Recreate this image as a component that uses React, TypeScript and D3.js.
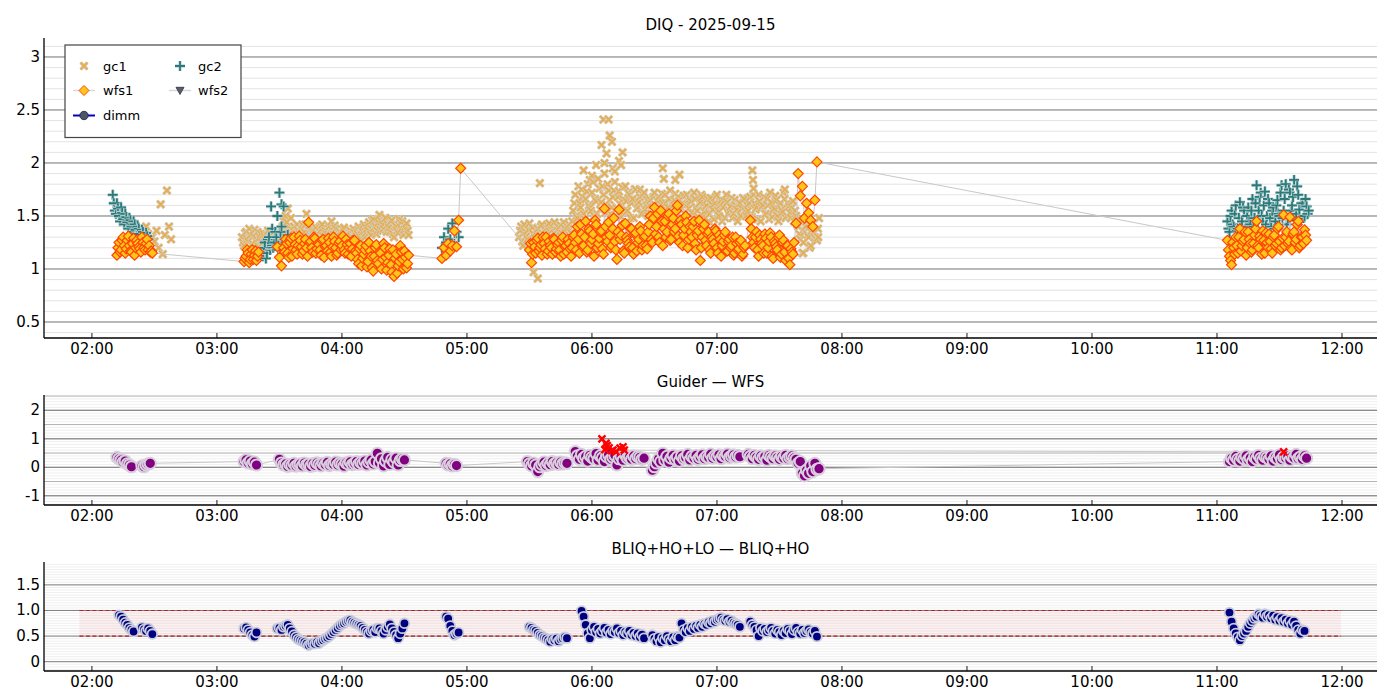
import React from "react";
import * as d3 from "d3";

type Seg = [number, number[]];
type Pt = [number, number];

// ---- axis ticks (time in minutes after 00:00) ----
const HOUR_TICKS = [120, 180, 240, 300, 360, 420, 480, 540, 600, 660, 720];
const HOUR_LABELS = ["02:00", "03:00", "04:00", "05:00", "06:00", "07:00", "08:00", "09:00", "10:00", "11:00", "12:00"];
const TOP_TICKS = [0.5, 1, 1.5, 2, 2.5, 3];
const TOP_LABELS = ["0.5", "1", "1.5", "2", "2.5", "3"];
const MID_TICKS = [-1, 0, 1, 2];
const MID_LABELS = ["-1", "0", "1", "2"];
const BOT_TICKS = [0, 0.5, 1, 1.5];
const BOT_LABELS = ["0", "0.5", "1.0", "1.5"];
const TITLES = ["DIQ - 2025-09-15", "Guider \u2014 WFS", "BLIQ+HO+LO \u2014 BLIQ+HO"];
const LEGEND_NAMES = ["gc1", "gc2", "wfs1", "wfs2", "dimm"];

// ---- series: [start minute, values at one-minute cadence] ----
const GC1_SEGS: Seg[] = [
  [146, [1.40, 1.33, 1.22, 1.30, 1.26, 1.36, 1.20, 1.61, 1.14, 1.32, 1.74, 1.40, 1.28]],
  [192, [1.30, 1.22, 1.35, 1.26, 1.32, 1.24, 1.37, 1.28, 1.21, 1.33,
    1.25, 1.30, 1.20, 1.28, 1.22, 1.31, 1.26, 1.24, 1.29, 1.23,
    1.45, 1.50, 1.57, 1.38, 1.32, 1.40, 1.28, 1.36, 1.30, 1.42,
    1.35, 1.52, 1.30, 1.38, 1.27, 1.40, 1.33, 1.29, 1.37, 1.31,
    1.36, 1.28, 1.40, 1.45, 1.32, 1.38, 1.27, 1.35, 1.30, 1.39,
    1.33, 1.27, 1.36, 1.29, 1.34, 1.31, 1.40, 1.28, 1.35, 1.30,
    1.38, 1.44, 1.32, 1.47, 1.40, 1.36, 1.51, 1.45, 1.38, 1.48,
    1.42, 1.35, 1.46, 1.30, 1.40, 1.34, 1.44, 1.45, 1.37, 1.43, 1.32]],
  [325, [1.30, 1.40, 1.22, 1.35, 1.28, 1.43, 1.25, 1.33, 1.20, 1.38, 1.28, 1.42, 1.32,
    1.26, 1.40, 1.35, 1.30, 1.44, 1.36, 1.29, 1.41, 1.33, 1.38, 1.30, 1.42, 1.34,
    1.55, 1.70, 1.48, 1.62, 1.75, 1.52, 1.66, 1.80, 1.58, 1.72, 1.50, 1.64, 1.85, 1.56, 1.78, 1.90,
    1.60, 1.74, 1.52, 1.68, 1.82, 1.57, 1.73, 1.49, 1.66, 1.78, 1.55, 1.70, 1.62, 1.48, 1.75, 1.58,
    1.68, 1.52, 1.72, 1.60,
    1.50, 1.65, 1.45, 1.72, 1.58, 1.68, 1.48, 1.62, 1.70, 1.55, 1.66, 1.46, 1.60, 1.71, 1.52, 1.64,
    1.57, 1.69, 1.47, 1.61, 1.66, 1.53, 1.72, 1.58, 1.49, 1.63, 1.68, 1.54, 1.60, 1.45, 1.67, 1.56,
    1.62, 1.70, 1.50, 1.65, 1.58, 1.48, 1.63, 1.55, 1.67, 1.52, 1.60, 1.45, 1.62, 1.57, 1.66, 1.50,
    1.55, 1.68, 1.48, 1.62, 1.58, 1.70, 1.45, 1.60, 1.52, 1.66, 1.47, 1.63, 1.55, 1.69, 1.50, 1.60,
    1.56, 1.72, 1.48, 1.62, 1.53, 1.58, 1.45, 1.50,
    1.40, 1.28, 1.15, 1.35, 1.45, 1.30, 1.22, 1.38, 1.30, 1.27, 1.48]],
];
// second sample of each minute (half a minute later)
const GC1_SEGS_HALF: Seg[] = [
  [192.5, [1.25, 1.34, 1.28, 1.38, 1.23, 1.31, 1.27, 1.35, 1.30, 1.24,
    1.33, 1.27, 1.36, 1.23, 1.30, 1.25, 1.34, 1.28, 1.32, 1.40,
    1.35, 1.44, 1.30, 1.48, 1.36, 1.29, 1.42, 1.33, 1.38, 1.27,
    1.42, 1.30, 1.36, 1.25, 1.34, 1.39, 1.28, 1.35, 1.42, 1.26,
    1.33, 1.38, 1.30, 1.36, 1.41, 1.29, 1.34, 1.27, 1.37, 1.32,
    1.29, 1.36, 1.31, 1.38, 1.26, 1.33, 1.30, 1.37, 1.42, 1.34,
    1.41, 1.35, 1.46, 1.39, 1.33, 1.44, 1.37, 1.42, 1.48, 1.35,
    1.39, 1.45, 1.33, 1.41, 1.36, 1.47, 1.38, 1.32, 1.40, 1.36]],
  [325.5, [1.36, 1.26, 1.42, 1.31, 1.37, 1.24, 1.39, 1.29, 1.35, 1.27, 1.40, 1.33, 1.37, 1.31, 1.43, 1.28,
    1.38, 1.32, 1.40, 1.35, 1.30, 1.44, 1.34, 1.39, 1.31, 1.45,
    1.62, 1.50, 1.78, 1.58, 1.68, 1.47, 1.73, 1.60, 1.55, 1.82, 1.66, 1.52, 1.76, 1.63, 1.70, 1.53, 1.80,
    1.65, 1.58, 1.74, 1.50, 1.68, 1.61, 1.77, 1.55, 1.64, 1.72, 1.48, 1.66, 1.75, 1.57, 1.63, 1.52, 1.70,
    1.56, 1.65,
    1.60, 1.52, 1.68, 1.47, 1.64, 1.56, 1.71, 1.50, 1.62, 1.58, 1.74, 1.49, 1.65, 1.55, 1.68, 1.46, 1.62,
    1.52, 1.70, 1.57, 1.64, 1.48, 1.66, 1.55, 1.62, 1.70, 1.50, 1.58, 1.66, 1.52, 1.61, 1.47, 1.68, 1.55,
    1.60, 1.45, 1.64, 1.70, 1.52, 1.59, 1.48, 1.65, 1.56, 1.62, 1.50, 1.67, 1.55, 1.60,
    1.62, 1.50, 1.70, 1.56, 1.47, 1.64, 1.58, 1.68, 1.52, 1.60, 1.72, 1.49, 1.57, 1.65, 1.45, 1.62, 1.54,
    1.66, 1.50, 1.59, 1.48, 1.64, 1.55, 1.42,
    1.33, 1.45, 1.25, 1.40, 1.32, 1.20, 1.42, 1.35, 1.28, 1.38]],
];
const GC1_EXTRA: Pt[] = [
  [332, 0.97], [334, 0.91], [335, 1.81], [356, 1.93], [359, 1.84], [360, 1.88], [362, 1.98],
  [364.6, 2.17], [365.5, 2.41], [366, 2.00], [367, 2.09], [368, 2.41], [368.5, 2.26], [369.6, 2.20],
  [370, 1.95], [371, 1.92], [373, 2.02], [374, 1.98], [374.7, 2.10], [383, 1.75], [394, 1.95],
  [394.5, 1.85], [400, 1.84], [402, 1.89], [437, 1.93], [437.3, 1.84], [437.6, 1.76], [452.6, 1.75],
  [461.4, 1.15], [468.6, 1.30],
];

const GC2_SEGS: Seg[] = [
  [130, [1.70, 1.55, 1.62, 1.50, 1.58, 1.47, 1.52, 1.44, 1.48, 1.40, 1.45, 1.37, 1.40, 1.33, 1.37, 1.30, 1.34, 1.28]],
  [202, [1.12, 1.25, 1.15, 1.30, 1.59, 1.20, 1.35, 1.50, 1.72, 1.40, 1.59, 1.25, 1.32, 1.12]],
  [288, [1.20, 1.30, 1.25, 1.38, 1.28, 1.43, 1.22, 1.35, 1.30]],
  [665, [1.45, 1.35, 1.55, 1.40, 1.60, 1.38, 1.63, 1.45, 1.55, 1.40, 1.58, 1.42, 1.66, 1.48, 1.79, 1.55,
    1.72, 1.45, 1.73, 1.50, 1.62, 1.40, 1.58, 1.45, 1.65, 1.50, 1.79, 1.55, 1.80, 1.48, 1.72, 1.60,
    1.84, 1.52, 1.70, 1.45, 1.62, 1.50, 1.59, 1.55]],
];
const GC2_SEGS_HALF: Seg[] = [
  [130.5, [1.62, 1.52, 1.57, 1.45, 1.53, 1.42, 1.49, 1.38, 1.46, 1.35, 1.42, 1.33, 1.38, 1.29, 1.35, 1.26, 1.31]],
  [202.5, [1.20, 1.10, 1.28, 1.18, 1.38, 1.25, 1.30, 1.22, 1.35, 1.18, 1.28, 1.20, 1.15]],
  [665.5, [1.38, 1.50, 1.42, 1.52, 1.36, 1.48, 1.40, 1.58, 1.38, 1.50, 1.45, 1.55, 1.40, 1.62, 1.45, 1.68,
    1.50, 1.60, 1.42, 1.66, 1.48, 1.55, 1.38, 1.60, 1.52, 1.72, 1.48, 1.66, 1.42, 1.75, 1.55, 1.68, 1.46,
    1.78, 1.56, 1.62, 1.48, 1.66, 1.52]],
];
const GC2_EXTRA: Pt[] = [[211, 1.61], [206.5, 1.22], [209.5, 1.18]];

const WFS1_SEGS: Seg[] = [
  [132, [1.13, 1.25, 1.18, 1.30, 1.15, 1.27, 1.22, 1.16, 1.29, 1.20, 1.24, 1.19, 1.30, 1.20, 1.24, 1.18, 1.16, 1.15]],
  [193, [1.07, 1.12, 1.15, 1.09, 1.18, 1.13, 1.08, 1.16]],
  [209, [1.21, 1.11, 1.03,
    1.20, 1.28, 1.15, 1.25, 1.12, 1.30, 1.18, 1.22, 1.27, 1.14, 1.24, 1.20, 1.44, 1.26, 1.16, 1.29, 1.19,
    1.23, 1.13, 1.28, 1.21, 1.17, 1.25, 1.12, 1.30, 1.20, 1.15, 1.26, 1.22, 1.18, 1.28, 1.14, 1.24, 1.19, 1.27,
    1.15, 1.05, 1.22, 1.10, 1.18, 1.02, 1.25, 1.12, 0.98, 1.20, 1.08, 1.16, 1.00, 1.24, 1.11, 1.06, 1.19,
    0.97, 0.93, 1.14, 1.03, 1.22, 1.09, 1.17, 1.01, 1.13]],
  [288, [1.10, 1.20, 1.13, 1.24, 1.17, 1.22, 1.36, 1.21, 1.46, 1.95]],
  [330, [1.18, 1.06, 1.25, 1.15, 1.29, 1.20, 1.13, 1.24, 1.30, 1.17, 1.22, 1.14, 1.28, 1.19, 1.25, 1.12, 1.30,
    1.21, 1.16, 1.24, 1.12, 1.30,
    1.25, 1.40, 1.15, 1.33, 1.22, 1.45, 1.18, 1.36, 1.28, 1.12, 1.42, 1.24, 1.35, 1.19, 1.57, 1.30, 1.44,
    1.20, 1.38, 1.26, 1.09, 1.56, 1.32, 1.17, 1.43, 1.27, 1.21, 1.38, 1.14, 1.34, 1.25, 1.40, 1.18, 1.30, 1.22,
    1.35, 1.50, 1.25, 1.58, 1.40, 1.30, 1.55, 1.22, 1.45, 1.35, 1.52, 1.28, 1.48, 1.38, 1.60, 1.25, 1.42,
    1.32, 1.50, 1.20, 1.40, 1.30, 1.45, 1.18, 1.36, 1.08, 1.30, 1.42, 1.22, 1.35, 1.15, 1.28, 1.38, 1.20,
    1.32, 1.12, 1.26, 1.35, 1.17, 1.28, 1.22, 1.13, 1.30, 1.18, 1.25, 1.12, 1.20]],
  [436, [1.46, 1.30, 1.20, 1.35, 1.12, 1.28, 1.22, 1.33, 1.15, 1.26, 1.30, 1.10, 1.24, 1.18, 1.32, 1.14,
    1.27, 1.08, 1.22, 1.04, 1.16, 1.25,
    1.43, 1.90, 1.69, 1.78, 1.48, 1.62, 1.53, 1.46, 1.40, 1.65, 2.01]],
  [665, [1.27, 1.12, 1.04, 1.20, 1.30, 1.15, 1.38, 1.22, 1.28, 1.13, 1.35, 1.24, 1.18, 1.32, 1.45, 1.20,
    1.28, 1.36, 1.15, 1.25, 1.33, 1.19, 1.30, 1.22, 1.38, 1.26, 1.20, 1.51, 1.30, 1.24, 1.49, 1.18, 1.35,
    1.28, 1.45, 1.22, 1.30, 1.37, 1.27]],
];
const WFS1_SEGS_HALF: Seg[] = [
  [132.5, [1.20, 1.16, 1.27, 1.22, 1.19, 1.31, 1.17, 1.24, 1.13, 1.27, 1.21, 1.16, 1.25, 1.18, 1.28, 1.22, 1.17]],
  [193.5, [1.10, 1.18, 1.06, 1.14, 1.09, 1.17, 1.12]],
  [212.5, [1.16, 1.24, 1.11, 1.29, 1.19, 1.23, 1.14, 1.31, 1.21, 1.17, 1.28, 1.12, 1.25, 1.20, 1.30, 1.15,
    1.24, 1.18, 1.27, 1.11, 1.22, 1.29, 1.16, 1.21, 1.26, 1.13, 1.24, 1.18, 1.31, 1.15, 1.23, 1.20, 1.12,
    1.27, 1.17,
    1.09, 1.19, 1.03, 1.14, 1.22, 1.07, 1.17, 1.01, 1.12, 1.23, 1.05, 1.15, 1.09, 1.20, 0.99, 1.13, 1.04,
    1.18, 1.10, 0.96, 1.07, 1.16, 1.00, 1.11, 1.05]],
  [330.5, [1.24, 1.14, 1.21, 1.27, 1.17, 1.23, 1.30, 1.19, 1.14, 1.26, 1.20, 1.29, 1.16, 1.23, 1.18, 1.27,
    1.14, 1.22, 1.28, 1.19,
    1.20, 1.32, 1.18, 1.28, 1.42, 1.21, 1.30, 1.16, 1.38, 1.24, 1.33, 1.46, 1.20, 1.29, 1.36, 1.14, 1.40,
    1.26, 1.32, 1.22, 1.48, 1.18, 1.35, 1.28, 1.41, 1.15, 1.30, 1.24, 1.38, 1.20, 1.33, 1.17, 1.28, 1.36,
    1.22, 1.31, 1.19,
    1.42, 1.28, 1.48, 1.33, 1.52, 1.25, 1.45, 1.38, 1.30, 1.50, 1.27, 1.42, 1.35, 1.55, 1.31, 1.46, 1.22,
    1.38, 1.44, 1.28, 1.35, 1.40, 1.24, 1.32, 1.46, 1.20, 1.38, 1.27, 1.33, 1.18, 1.30, 1.24, 1.36, 1.15,
    1.28, 1.22, 1.32, 1.17, 1.26, 1.20, 1.30, 1.15, 1.24, 1.19, 1.27, 1.14, 1.22]],
  [436.5, [1.38, 1.25, 1.30, 1.18, 1.32, 1.24, 1.15, 1.29, 1.20, 1.34, 1.12, 1.26, 1.21, 1.30, 1.11, 1.25,
    1.16, 1.22, 1.10, 1.19, 1.14]],
  [665.5, [1.18, 1.08, 1.25, 1.14, 1.22, 1.30, 1.17, 1.26, 1.35, 1.20, 1.28, 1.16, 1.24, 1.38, 1.22, 1.31,
    1.14, 1.27, 1.34, 1.20, 1.26, 1.15, 1.32, 1.24, 1.40, 1.18, 1.29, 1.22, 1.35, 1.26, 1.19, 1.33, 1.25,
    1.42, 1.20, 1.30, 1.24, 1.32]],
];

const GUIDER_SEGS: Seg[] = [
  [132, [0.35, 0.30, 0.25, 0.18, 0.22, 0.12, 0.08, 0.02]],
  [144, [0.05, 0.02, 0.08, 0.12, 0.14]],
  [193, [0.20, 0.26, 0.15, 0.22, 0.12, 0.18, 0.08]],
  [210, [0.28, 0.15, 0.08, 0.12, 0.03, 0.10, 0.06, 0.14, 0.04, 0.09, 0.12, 0.05, 0.15, 0.08, 0.11, 0.03,
    0.13, 0.07, 0.16, 0.10, 0.05, 0.14, 0.09, 0.17, 0.06, 0.12, 0.10, 0.18, 0.08, 0.15, 0.11, 0.04, 0.16,
    0.12, 0.19, 0.09, 0.14, 0.20, 0.10, 0.17, 0.13, 0.22, 0.08, 0.18, 0.25, 0.12, 0.20, 0.49, 0.15, 0.30,
    0.05, 0.22, 0.35, 0.10, 0.28, 0.18, 0.32, 0.08, 0.24, 0.30, 0.26]],
  [290, [0.14, 0.08, 0.12, 0.05, 0.10, 0.06]],
  [329, [0.20, 0.12, 0.05, 0.15, 0.08, -0.15, 0.02, 0.10, 0.18, 0.06, 0.14, 0.09, 0.20, 0.12, 0.16, 0.10,
    0.18, 0.12, 0.16, 0.14]],
  [352, [0.55, 0.40, 0.28, 0.45, 0.32, 0.38, 0.22, 0.42, 0.35, 0.30, 0.48, 0.25, 0.40, 0.33, 0.20, 0.38,
    0.45, 0.28, 0.35, 0.42, 0.08, 0.30, 0.38, 0.25, 0.44, 0.32, 0.36, 0.28, 0.40, 0.30, 0.38, 0.35, 0.28, 0.32]],
  [389, [-0.10, 0.02, 0.15, 0.30, 0.20, 0.49, 0.25, 0.38, 0.18, 0.32, 0.42, 0.28, 0.36, 0.22, 0.40, 0.30,
    0.34, 0.45, 0.26, 0.38, 0.32, 0.42, 0.28, 0.36, 0.44, 0.30, 0.38, 0.34, 0.46, 0.32, 0.40, 0.36, 0.44,
    0.30, 0.42, 0.38, 0.46, 0.34, 0.40, 0.44, 0.36, 0.42, 0.37]],
  [435, [0.45, 0.38, 0.30, 0.42, 0.35, 0.28, 0.40, 0.33, 0.38, 0.25, 0.42, 0.36, 0.30, 0.40, 0.34, 0.28,
    0.38, 0.32, 0.42, 0.30, 0.36, 0.40, 0.33, 0.28, 0.14, 0.20, -0.21, -0.30, -0.10, -0.21, 0.05, -0.15,
    0.14, -0.07, -0.05]],
  [666, [0.20, 0.32, 0.25, 0.38, 0.28, 0.22, 0.35, 0.30, 0.40, 0.26, 0.33, 0.20, 0.36, 0.29, 0.42, 0.31,
    0.25, 0.38, 0.34, 0.28, 0.40, 0.22, 0.35, 0.30, 0.44, 0.27, 0.36, 0.32, 0.40, 0.25, 0.38, 0.33, 0.45,
    0.30, 0.36, 0.28, 0.40, 0.32]],
];
const GUIDER_FLAGGED: Pt[] = [
  [364.8, 1.00], [366.2, 0.62], [366.7, 0.84], [367.3, 0.76], [368.2, 0.68], [369.5, 0.58], [370.1, 0.60],
  [371.5, 0.55], [373.5, 0.67], [374.9, 0.72], [375.5, 0.60], [692, 0.54],
];

const BLIQ_SEGS: Seg[] = [
  [133, [0.91, 0.88, 0.82, 0.76, 0.72, 0.66, 0.62, 0.59]],
  [144, [0.67, 0.63, 0.60, 0.65, 0.60, 0.54]],
  [193, [0.65, 0.67, 0.62, 0.57, 0.52, 0.49, 0.57]],
  [209, [0.65, 0.66, 0.62, 0.68, 0.70, 0.72, 0.65, 0.59, 0.52, 0.48, 0.44, 0.42, 0.40, 0.38, 0.35, 0.32,
    0.34, 0.36, 0.35, 0.38, 0.36, 0.40, 0.42, 0.45, 0.47, 0.50, 0.54, 0.58, 0.62, 0.66, 0.70, 0.73, 0.75,
    0.78, 0.80, 0.81, 0.78, 0.76, 0.74, 0.72, 0.70, 0.66, 0.62, 0.58, 0.55, 0.60, 0.62, 0.58, 0.65, 0.65,
    0.60, 0.55, 0.62, 0.68, 0.73, 0.65, 0.58, 0.52, 0.46, 0.55, 0.65, 0.75]],
  [290, [0.88, 0.84, 0.70, 0.60, 0.52, 0.55, 0.57]],
  [330, [0.68, 0.66, 0.62, 0.60, 0.56, 0.52, 0.50, 0.47, 0.45, 0.42, 0.39, 0.44, 0.42, 0.45, 0.40, 0.44,
    0.46, 0.48, 0.46]],
  [355, [0.99, 0.88, 0.72, 0.55, 0.46, 0.62, 0.68, 0.58, 0.64, 0.55, 0.60, 0.66, 0.57, 0.62, 0.54, 0.60,
    0.58, 0.65, 0.56, 0.60, 0.52, 0.58, 0.55, 0.60, 0.52, 0.56, 0.50, 0.55, 0.48, 0.53, 0.46]],
  [389, [0.52, 0.45, 0.40, 0.48, 0.38, 0.46, 0.42, 0.50, 0.44, 0.40, 0.48, 0.42, 0.49, 0.47, 0.75, 0.62,
    0.58, 0.66, 0.60, 0.68, 0.64, 0.70, 0.66, 0.72, 0.68, 0.74, 0.72, 0.77, 0.75, 0.80, 0.78, 0.82, 0.84,
    0.86, 0.82, 0.80, 0.83, 0.78, 0.80, 0.76, 0.74, 0.72, 0.68]],
  [436, [0.78, 0.72, 0.68, 0.62, 0.50, 0.66, 0.60, 0.64, 0.58, 0.62, 0.66, 0.60, 0.55, 0.62, 0.58, 0.52,
    0.60, 0.56, 0.64, 0.60, 0.54, 0.62, 0.66, 0.58, 0.55, 0.62, 0.56, 0.60, 0.63, 0.58, 0.55, 0.60, 0.49]],
  [666, [0.96, 0.78, 0.65, 0.55, 0.48, 0.42, 0.50, 0.55, 0.60, 0.68, 0.75, 0.80, 0.85, 0.88, 0.93, 0.90,
    0.86, 0.93, 0.88, 0.91, 0.85, 0.90, 0.82, 0.87, 0.80, 0.85, 0.78, 0.82, 0.75, 0.80, 0.72, 0.78, 0.70,
    0.62, 0.55, 0.62, 0.60]],
];
const BAND_SPAN = [114, 719.5];
const BAND_LIMITS = [0.5, 1.0];

// ---- helpers ----
const expand = (segs: Seg[]): Pt[] =>
  segs.flatMap(([t0, vs]) => vs.map((v, i) => [t0 + i, v] as Pt));
const byTime = (a: Pt, b: Pt) => a[0] - b[0];

const FONT = "'DejaVu Sans', Verdana, sans-serif";
const PLOT_L = 44;
const PLOT_R = 1377;

const x = d3.scaleLinear().domain([97, 736.8]).range([PLOT_L, PLOT_R]);

const PANELS = [
  { top: 38, bottom: 338, dom: [0.349, 3.179], ticks: TOP_TICKS, labels: TOP_LABELS, minor: 0.1, semi: 0, titleY: 29.5 },
  { top: 395, bottom: 505, dom: [-1.323, 2.537], ticks: MID_TICKS, labels: MID_LABELS, minor: 0.1, semi: 0.5, titleY: 386.5 },
  { top: 562, bottom: 671, dom: [-0.182, 1.947], ticks: BOT_TICKS, labels: BOT_LABELS, minor: 0.05, semi: 0, titleY: 553.5 },
];

const yScale = (i: number) =>
  d3.scaleLinear().domain(PANELS[i].dom).range([PANELS[i].bottom, PANELS[i].top]);

const xPath = (cx: number, cy: number, s: number) =>
  `M${cx - s},${cy - s}L${cx + s},${cy + s}M${cx - s},${cy + s}L${cx + s},${cy - s}`;
const plusPath = (cx: number, cy: number, s: number) =>
  `M${cx - s},${cy}H${cx + s}M${cx},${cy - s}V${cy + s}`;
const diamondPath = (cx: number, cy: number, s: number) =>
  `M${cx},${cy - s}L${cx + s},${cy}L${cx},${cy + s}L${cx - s},${cy}Z`;
const triPath = (cx: number, cy: number, s: number) =>
  `M${cx - s},${cy - s * 0.8}L${cx + s},${cy - s * 0.8}L${cx},${cy + s}Z`;

function Frame({ i }: { i: number }) {
  const p = PANELS[i];
  const y = yScale(i);
  const [lo, hi] = y.domain();
  const minors = d3.range(Math.ceil(lo / p.minor - 1e-9), Math.floor(hi / p.minor + 1e-9) + 1).map((k) => k * p.minor);
  const semis = p.semi
    ? d3.range(Math.ceil(lo / p.semi), Math.floor(hi / p.semi) + 1).map((k) => k * p.semi)
    : [];
  return (
    <g>
      {minors.map((v, k) => (
        <line key={"m" + k} x1={PLOT_L} x2={PLOT_R} y1={y(v)} y2={y(v)} stroke={i === 0 ? "#dcdcdc" : "#ebebeb"} strokeWidth={0.8} />
      ))}
      {semis.map((v, k) => (
        <line key={"s" + k} x1={PLOT_L} x2={PLOT_R} y1={y(v)} y2={y(v)} stroke="#b4b4b4" strokeWidth={1} />
      ))}
      {p.ticks.map((v, k) => (
        <line key={"M" + k} x1={PLOT_L} x2={PLOT_R} y1={y(v)} y2={y(v)} stroke="#7f7f7f" strokeWidth={1} />
      ))}
    </g>
  );
}

function AxesOverlay({ i }: { i: number }) {
  const p = PANELS[i];
  const y = yScale(i);
  return (
    <g fontFamily={FONT} fontSize={15} fill="#000">
      <line x1={PLOT_L} x2={PLOT_L} y1={p.top} y2={p.bottom} stroke="#000" strokeWidth={1.3} />
      <line x1={PLOT_L} x2={PLOT_R} y1={p.bottom} y2={p.bottom} stroke="#000" strokeWidth={1.3} />
      {HOUR_TICKS.map((t, k) => (
        <g key={k}>
          <line x1={x(t)} x2={x(t)} y1={p.bottom} y2={p.bottom - 5} stroke="#000" strokeWidth={0.9} />
          <text x={x(t)} y={p.bottom + 16} textAnchor="middle">{HOUR_LABELS[k]}</text>
        </g>
      ))}
      {p.ticks.map((v, k) => (
        <text key={k} x={40} y={y(v)} textAnchor="end" dominantBaseline="central">{p.labels[k]}</text>
      ))}
      <text x={(PLOT_L + PLOT_R) / 2} y={p.titleY} textAnchor="middle">{TITLES[i]}</text>
    </g>
  );
}

function Legend() {
  const rows = [66, 90.5, 115.5];
  const cols = [84, 180];
  const tx = [103, 198];
  const lineH = (c: number, r: number, color: string, w: number) => (
    <line x1={cols[c] - 11} x2={cols[c] + 11} y1={rows[r]} y2={rows[r]} stroke={color} strokeWidth={w} />
  );
  return (
    <g fontFamily={FONT} fontSize={13}>
      <rect x={65} y={45} width={176} height={92.5} fill="#fff" stroke="#444" strokeWidth={1.2} />
      <path d={xPath(cols[0], rows[0], 3.5)} stroke="#d8d0c4" strokeWidth={3.4} fill="none" />
      <path d={xPath(cols[0], rows[0], 3.5)} stroke="#e5ae50" strokeWidth={1.8} fill="none" />
      <text x={tx[0]} y={rows[0]} dominantBaseline="central">{LEGEND_NAMES[0]}</text>
      <path d={plusPath(cols[1], rows[0], 5)} stroke="#c4d6d8" strokeWidth={3.4} fill="none" />
      <path d={plusPath(cols[1], rows[0], 5)} stroke="#2a7a7a" strokeWidth={1.8} fill="none" />
      <text x={tx[1]} y={rows[0]} dominantBaseline="central">{LEGEND_NAMES[1]}</text>
      {lineH(0, 1, "#d9d9d9", 1.5)}
      <path d={diamondPath(cols[0], rows[1], 5)} fill="#ffc61a" stroke="#ff4500" strokeWidth={1} />
      <text x={tx[0]} y={rows[1]} dominantBaseline="central">{LEGEND_NAMES[2]}</text>
      {lineH(1, 1, "#d9d9d9", 1.5)}
      <path d={triPath(cols[1], rows[1], 4)} fill="#5a5f6e" stroke="#2e2e38" strokeWidth={0.8} />
      <text x={tx[1]} y={rows[1]} dominantBaseline="central">{LEGEND_NAMES[3]}</text>
      {lineH(0, 2, "#0000cc", 2)}
      <circle cx={cols[0]} cy={rows[2]} r={4.2} fill="#4a5470" stroke="#222" strokeWidth={0.8} />
      <text x={tx[0]} y={rows[2]} dominantBaseline="central">{LEGEND_NAMES[4]}</text>
    </g>
  );
}

export default function App() {
  const yT = yScale(0), yM = yScale(1), yB = yScale(2);
  const gc1 = [...expand(GC1_SEGS), ...expand(GC1_SEGS_HALF), ...GC1_EXTRA].sort(byTime);
  const gc2 = [...expand(GC2_SEGS), ...expand(GC2_SEGS_HALF), ...GC2_EXTRA].sort(byTime);
  const wfs1 = [...expand(WFS1_SEGS), ...expand(WFS1_SEGS_HALF)].sort(byTime);
  const guider = expand(GUIDER_SEGS).sort(byTime);
  const bliq = expand(BLIQ_SEGS);
  const lineT = d3.line<Pt>().x((d) => x(d[0])).y((d) => yT(d[1]));
  const lineM = d3.line<Pt>().x((d) => x(d[0])).y((d) => yM(d[1]));

  return (
    <svg width={1400} height={700} style={{ position: "absolute", left: 0, top: 0, background: "#fff" }}>
      <defs>
        {PANELS.map((p, i) => (
          <clipPath id={"clip" + i} key={i}>
            <rect x={PLOT_L} y={p.top} width={PLOT_R - PLOT_L} height={p.bottom - p.top} />
          </clipPath>
        ))}
      </defs>
      <rect width={1400} height={700} fill="#fff" />

      {/* top panel */}
      <Frame i={0} />
      <g clipPath="url(#clip0)">
        {gc1.map(([t, v], k) => (
          <g key={"g1" + k}>
            <path d={xPath(x(t), yT(v), 3.6)} stroke="#d6cfc4" strokeWidth={3.4} fill="none" />
            <path d={xPath(x(t), yT(v), 3.6)} stroke="#e5ae50" strokeWidth={1.8} fill="none" />
          </g>
        ))}
        {gc2.map(([t, v], k) => (
          <g key={"g2" + k}>
            <path d={plusPath(x(t), yT(v), 5)} stroke="#bfd3d6" strokeWidth={3.4} fill="none" />
            <path d={plusPath(x(t), yT(v), 5)} stroke="#2a7a7a" strokeWidth={1.8} fill="none" />
          </g>
        ))}
        <path d={lineT(wfs1) || ""} fill="none" stroke="#c8c8c8" strokeWidth={1} />
        {wfs1.map(([t, v], k) => (
          <path key={"w" + k} d={diamondPath(x(t), yT(v), 5)} fill="#ffc61a" stroke="#ff4500" strokeWidth={1.2} />
        ))}
      </g>
      <AxesOverlay i={0} />
      <Legend />

      {/* middle panel */}
      <Frame i={1} />
      <g clipPath="url(#clip1)">
        <path d={lineM(guider) || ""} fill="none" stroke="#c8c8c8" strokeWidth={1} />
        <path d={lineM(GUIDER_FLAGGED) || ""} fill="none" stroke="#c8c8c8" strokeWidth={1} />
        {guider.map(([t, v], k) => (
          <circle key={"p" + k} cx={x(t)} cy={yM(v)} r={5.6} fill="#800080" stroke="#d8cedc" strokeWidth={2} />
        ))}
        {GUIDER_FLAGGED.map(([t, v], k) => (
          <path key={"r" + k} d={xPath(x(t), yM(v), 3.5)} stroke="#ff0000" strokeWidth={2.4} fill="none" />
        ))}
      </g>
      <AxesOverlay i={1} />

      {/* bottom panel */}
      <Frame i={2} />
      <g clipPath="url(#clip2)">
        <rect x={x(BAND_SPAN[0])} width={x(BAND_SPAN[1]) - x(BAND_SPAN[0])} y={yB(BAND_LIMITS[1])}
          height={yB(BAND_LIMITS[0]) - yB(BAND_LIMITS[1])} fill="#f08080" fillOpacity={0.12} />
        {BAND_LIMITS.map((v, k) => (
          <line key={"b" + k} x1={x(BAND_SPAN[0])} x2={x(BAND_SPAN[1])} y1={yB(v)} y2={yB(v)}
            stroke="#b22222" strokeWidth={1.2} strokeDasharray="4,2.5" />
        ))}
        {bliq.map(([t, v], k) => (
          <circle key={"n" + k} cx={x(t)} cy={yB(v)} r={4.8} fill="#000080" stroke="#c8ccdc" strokeWidth={1.8} />
        ))}
      </g>
      <AxesOverlay i={2} />
    </svg>
  );
}
